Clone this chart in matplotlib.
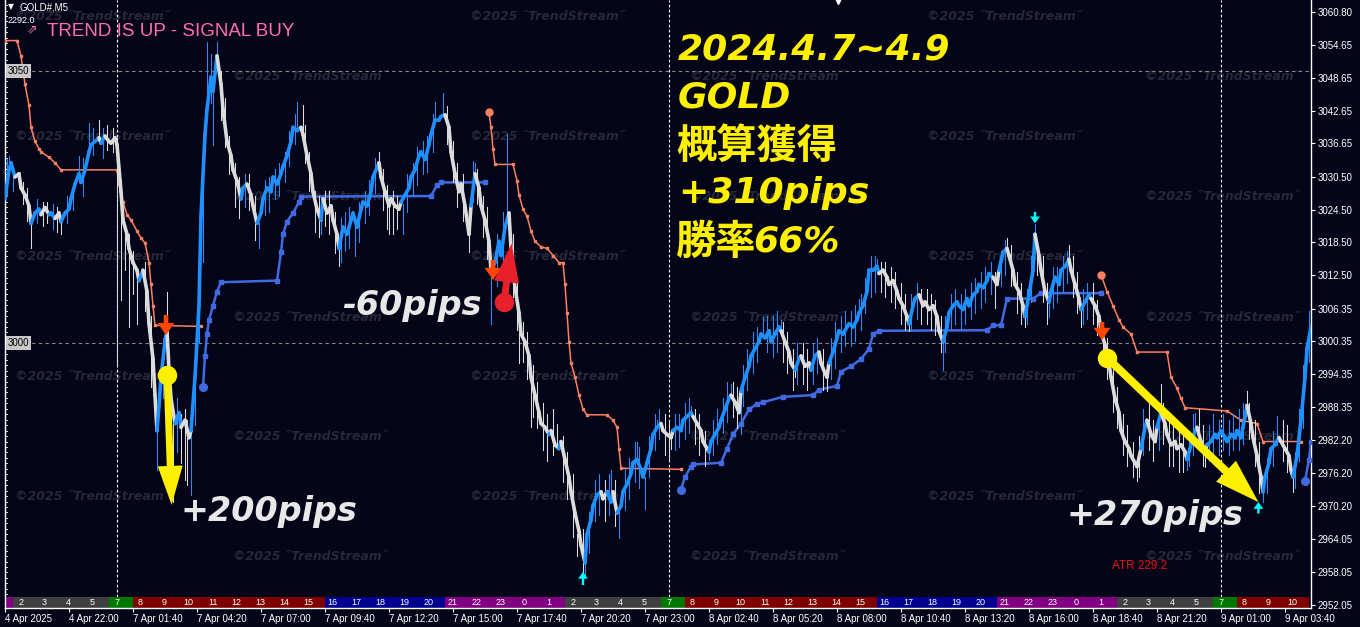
import matplotlib
matplotlib.use("Agg")
import matplotlib.pyplot as plt
from matplotlib.collections import LineCollection
from matplotlib.patches import Rectangle
from matplotlib.transforms import blended_transform_factory

# ------------------------------------------------------------------ data
# price path: (bar index, price) – M5 bars
price_path = [
    (0,3026.5),(2,3031.8),(3,3033.1),(5,3030.5),(7,3031.1),(8,3028.5),(10,3027.2),(12,3025.2),(13,3022.0),
    (15,3023.9),(17,3024.6),(18,3023.6),(20,3024.9),(22,3023.6),(23,3023.9),(25,3022.9),(27,3023.9),(28,3022.3),
    (30,3023.9),(32,3024.6),(33,3026.5),(35,3029.2),(37,3031.1),(38,3029.5),(40,3031.8),(42,3035.1),(43,3036.4),
    (45,3037.0),(47,3037.7),(48,3036.7),(50,3038.0),(52,3037.0),(53,3036.7),(55,3037.7),(56,3036.4),(58,3027.8),
    (59,3022.6),(61,3020.0),(62,3017.4),(64,3014.8),(66,3013.4),(67,3011.5),(69,3013.4),(71,3009.5),(72,3003.6),
    (74,2997.1),(75,2990.5),(76,2984.0),(77,2988.6),(78,2993.8),(80,3000.3),(81,3002.3),(82,2995.1),(83,2989.9),
    (85,2985.3),(87,2987.3),(88,2984.6),(90,2985.9),(92,2982.7),(93,2984.0),(95,2993.8),(97,3006.9),(98,3023.3),
    (100,3038.3),(101,3042.9),(103,3048.8),(104,3046.2),(106,3052.7),(108,3047.5),(109,3042.9),(111,3037.0),
    (113,3034.4),(114,3031.8),(116,3029.8),(118,3026.5),(119,3028.5),(121,3029.2),(123,3027.2),(124,3025.2),
    (126,3022.0),(128,3023.9),(129,3026.5),(131,3028.5),(133,3027.8),(134,3030.5),(136,3029.2),(138,3031.1),
    (139,3032.4),(141,3034.4),(143,3037.0),(144,3039.6),(146,3039.0),(148,3039.6),(149,3038.3),(151,3034.4),
    (153,3031.1),(154,3027.8),(156,3024.6),(158,3022.6),(159,3026.5),(161,3023.9),(163,3025.2),(164,3022.6),
    (166,3020.0),(167,3017.4),(169,3021.3),(171,3020.0),(173,3022.6),(174,3023.9),(176,3021.3),(178,3024.6),
    (179,3025.9),(181,3025.2),(183,3027.8),(184,3030.5),(187,3033.1),(188,3030.5),(190,3027.8),(192,3025.2),
    (193,3026.5),(195,3025.2),(197,3024.6),(198,3025.9),(200,3027.2),(202,3028.5),(203,3030.5),(205,3031.8),
    (207,3034.4),(208,3035.1),(210,3033.7),(212,3036.4),(213,3038.3),(215,3040.9),(217,3040.9),
    (218,3041.6),(220,3041.9),(222,3039.6),(223,3035.1),(225,3031.1),(227,3027.8),(228,3029.2),(230,3025.2),
    (232,3020.0),(233,3025.2),(235,3031.1),(237,3028.5),(238,3025.2),(240,3022.6),(242,3018.7),(243,3013.4),
    (245,3014.8),(247,3018.7),(248,3016.1),(250,3021.3),(252,3023.9),(253,3017.4),(255,3010.2),(257,3005.6),
    (258,3001.7),(260,3000.3),(262,2997.7),(263,2993.8),(265,2990.5),(267,2987.3),(268,2985.3),(270,2984.6),
    (272,2983.3),(273,2984.0),(275,2981.4),(277,2980.7),(278,2982.0),(280,2978.7),(282,2975.5),(283,2972.8),
    (285,2968.9),(287,2965.6),(288,2963.0),(290,2959.8),(291,2965.0),(293,2967.6),(294,2970.2),(296,2972.2),
    (298,2972.8),(299,2971.5),(301,2972.8),(303,2970.9),(304,2972.8),(306,2968.9),(308,2970.2),(309,2972.8),
    (311,2974.2),(313,2976.1),(314,2978.1),(316,2978.7),(318,2976.8),(319,2975.5),(321,2978.1),(323,2980.7),
    (324,2983.3),(326,2984.6),(328,2985.3),(329,2984.0),(331,2983.3),(333,2982.7),(334,2984.0),(336,2984.6),
    (338,2984.0),(339,2985.9),(341,2986.6),(343,2987.3),(344,2986.6),(346,2985.3),(348,2984.0),(349,2982.0),
    (351,2980.7),(352,2980.1),(353,2982.0),(355,2983.3),(357,2984.6),(358,2985.9),(360,2987.9),(362,2989.9),
    (363,2990.5),(365,2989.2),(367,2987.3),(368,2991.2),(370,2993.8),(372,2995.8),(373,2997.7),(375,2999.0),
    (377,3000.3),(378,3001.7),(380,3001.0),(382,3002.3),(383,3000.3),(385,3001.7),(387,3003.0),(388,3002.3),
    (390,3000.3),(392,2998.4),(393,2996.4),(395,2995.1),(397,2997.1),(398,2997.7),(400,2995.8),(402,2996.4),
    (403,2995.1),(405,2997.7),(407,2998.4),(408,2996.4),(410,2994.5),(411,2993.8),(412,2996.4),(414,2998.4),
    (416,3001.0),(417,3002.3),(419,3001.7),(421,3003.0),(422,3003.6),(424,3003.0),(426,3004.3),(427,3005.6),
    (429,3006.9),(431,3009.5),(432,3013.4),
    (434,3013.4),(436,3014.1),(437,3012.8),(439,3013.4),(441,3012.1),(442,3010.8),(444,3011.5),(446,3009.5),
    (447,3008.2),(449,3006.9),(451,3004.9),(452,3003.6),(454,3006.9),(455,3008.2),(457,3008.9),(459,3006.9),
    (460,3007.6),(462,3006.2),(464,3006.9),(466,3004.9),(467,3002.3),(469,3000.3),(471,3003.0),(472,3005.6),
    (474,3006.9),(476,3007.6),(477,3006.9),(479,3006.2),(481,3008.2),(482,3006.9),(484,3008.9),(486,3009.5),
    (487,3010.8),(489,3010.2),(491,3011.5),(492,3012.8),(494,3012.1),(496,3010.8),(497,3013.4),(499,3016.7),
    (501,3017.4),(502,3016.1),(504,3013.4),(505,3010.8),(507,3009.5),(509,3006.9),(510,3004.9),(512,3008.9),
    (514,3013.4),(515,3020.0),(517,3016.1),(518,3013.4),(520,3009.5),(522,3007.6),(523,3009.5),(525,3012.1),
    (527,3010.8),(528,3013.4),(530,3014.1),(532,3015.4),(533,3013.4),(535,3010.8),(537,3008.2),(538,3006.2),
    (540,3007.6),(542,3008.9),(543,3008.2),(545,3006.9),(547,3004.9),(548,3002.3),(550,2999.7),(552,2996.4),
    (553,2993.8),(555,2989.9),(557,2987.3),(558,2984.0),(560,2982.0),(562,2980.7),(563,2979.4),(565,2978.1),
    (566,2977.4),(568,2980.7),(570,2984.6),(571,2985.9),(573,2983.3),(575,2982.0),(576,2984.6),(578,2987.3),
    (580,2985.3),(581,2983.3),(583,2981.4),(585,2982.0),(586,2980.7),(588,2981.4),(590,2980.1),(591,2978.7),
    (593,2981.4),(595,2984.0),(596,2984.6),(598,2982.0),(600,2980.1),(601,2981.4),(603,2982.0),(605,2983.3),
    (606,2982.7),(608,2984.0),(610,2982.7),(611,2982.0),(613,2983.3),(615,2982.7),(616,2984.0),(618,2982.7),
    (620,2986.6),(621,2988.6),(623,2985.3),(624,2982.7),(626,2979.4),(628,2975.5),(629,2972.8),(630,2975.5),
    (632,2978.1),(633,2980.7),(635,2981.4),(637,2982.7),(638,2982.0),(640,2980.7),(642,2979.4),(643,2976.8),
    (644,2975.5),(646,2979.4),(648,2985.9),(650,2993.8),(651,2999.0),(653,3003.0),
]

# bar ranges in which the trend colour is "up" (blue); elsewhere "down" (white)
blue_spans = [(0,6),(14,19),(22,25),(29,47),(49,51),(68,69),(76,81),(86,88),(93,107),(118,122),
              (127,148),(158,160),(168,187),(198,221),(233,236),(243,252),(272,273),(277,278),
              (290,298),(302,304),(307,328),(334,344),(352,364),(368,389),(396,399),(404,407),
              (412,437),(453,458),(469,494),(497,501),(511,516),(522,532),(539,543),(568,572),
              (576,578),(591,596),(601,621),(629,637),(645,653)]

# wicks: (bar, high, low)
wicks = [
    (1,3033.8,3027.0),(2,3034.4,3031.0),(4,3032.5,3028.0),(9,3029.5,3025.5),(11,3028.5,3022.5),
    (13,3022.0,3017.4),(16,3026.5,3022.0),(19,3026.0,3021.5),(21,3026.0,3022.0),(24,3025.5,3021.0),
    (26,3025.0,3020.5),(28,3022.3,3020.0),(31,3027.0,3022.0),(34,3029.0,3024.5),(37,3034.4,3031.1),
    (39,3034.0,3027.0),(42,3040.3,3035.1),(44,3039.5,3034.5),(47,3040.9,3037.7),(49,3039.5,3034.0),
    (51,3040.0,3035.5),(54,3039.5,3035.0),(56,3037.7,2995.8),(58,3030.0,3008.0),(60,3021.0,3013.4),
    (62,3020.0,3003.0),(64,3017.0,3009.0),(66,3013.4,3003.6),(70,3015.0,3006.0),(73,3005.0,2992.0),
    (76,2984.0,2976.8),(79,3001.0,2990.0),(81,3009.5,3002.3),(84,2986.0,2970.9),(86,2990.0,2980.0),
    (88,2987.0,2978.0),(90,2988.0,2975.0),(91,2986.0,2974.0),(93,2984.0,2972.2),(95,2996.0,2985.0),
    (97,3010.0,3000.0),(99,3032.0,3015.0),(101,3055.3,3042.9),(103,3053.0,3044.0),(104,3046.2,3036.4),
    (106,3055.3,3052.7),(108,3050.0,3041.0),(110,3045.0,3036.0),(112,3038.0,3031.0),(115,3033.0,3025.0),
    (117,3030.5,3023.0),(120,3031.0,3025.0),(122,3031.0,3024.5),(125,3027.0,3019.0),(127,3022.0,3017.4),
    (130,3030.0,3023.5),(132,3030.5,3024.0),(135,3032.0,3026.5),(137,3033.0,3027.0),(140,3035.0,3029.5),
    (142,3039.0,3032.5),(145,3042.0,3036.5),(146,3044.2,3039.0),(149,3043.6,3038.3),(150,3040.0,3033.0),
    (152,3035.0,3028.0),(155,3028.0,3020.5),(157,3027.0,3019.5),(158,3022.6,3020.0),(160,3028.0,3021.5),
    (162,3028.0,3020.0),(165,3024.0,3016.5),(167,3017.4,3014.1),(168,3023.0,3015.0),(170,3024.0,3017.0),
    (172,3025.0,3017.5),(175,3022.0,3016.1),(177,3026.0,3018.5),(180,3028.0,3022.0),(182,3030.0,3023.5),
    (185,3034.0,3027.5),(187,3035.1,3033.1),(189,3032.0,3024.5),(191,3029.0,3021.0),(192,3025.2,3020.0),
    (194,3028.0,3020.0),(196,3027.0,3021.0),(199,3025.5,3020.0),(201,3031.0,3024.0),(204,3033.0,3027.0),
    (206,3036.0,3029.0),(209,3037.0,3031.0),(211,3038.0,3031.5),(214,3042.0,3035.0),(215,3044.2,3040.9),
    (219,3045.8,3041.7),(221,3043.5,3036.5),(224,3037.0,3029.5),(226,3033.0,3025.0),(229,3031.0,3022.5),
    (232,3020.0,3016.7),(234,3033.5,3026.0),(235,3033.1,3031.1),(236,3032.0,3025.5),(239,3027.0,3019.5),
    (241,3025.0,3015.5),(243,3013.4,3003.6),(246,3020.0,3010.5),(249,3024.0,3012.5),(251,3038.3,3022.6),
    (254,3020.0,3008.5),(256,3012.0,3002.5),(257,3005.6,2996.4),(259,3004.0,2996.5),(261,3002.0,2993.5),
    (263,2993.8,2984.6),(264,2996.0,2986.5),(266,2993.0,2984.5),(269,2989.0,2980.5),(271,2987.0,2978.5),
    (274,2988.0,2979.5),(276,2985.3,2981.0),(279,2983.0,2974.5),(281,2980.0,2971.5),(284,2976.0,2964.5),
    (286,2965.0,2961.1),(289,2966.0,2958.0),(290,2959.8,2957.1),(292,2969.0,2961.5),(295,2975.0,2967.5),
    (297,2976.0,2968.5),(300,2975.0,2967.5),(302,2976.0,2968.5),(303,2976.8,2970.9),(305,2975.0,2966.5),
    (307,2969.5,2964.3),(310,2977.0,2969.5),(312,2979.0,2971.5),(315,2982.0,2974.5),(316,2982.0,2978.7),
    (317,2981.0,2973.5),(320,2975.5,2969.6),(322,2983.0,2975.5),(325,2987.0,2980.5),(326,2985.9,2984.6),
    (327,2988.0,2982.5),(330,2987.0,2979.5),(332,2986.0,2978.5),(333,2982.7,2980.7),(335,2987.0,2980.5),
    (337,2987.0,2981.0),(340,2989.0,2982.5),(342,2990.0,2983.5),(343,2988.6,2987.3),(345,2988.0,2981.5),
    (347,2987.0,2979.5),(350,2984.0,2977.5),(352,2980.1,2978.7),(354,2986.0,2979.5),(356,2988.0,2981.5),
    (359,2990.0,2983.5),(361,2993.0,2985.5),(363,2992.5,2990.5),(364,2993.0,2986.5),(366,2992.0,2984.5),
    (368,2991.2,2983.3),(369,2996.0,2988.5),(371,2999.0,2991.5),(374,3002.0,2994.5),(376,3003.0,2996.5),
    (379,3004.9,3001.3),(381,3005.0,2998.5),(384,3005.0,2997.5),(386,3006.0,2998.5),(388,3004.3,3002.3),
    (389,3004.0,2996.5),(391,3002.0,2994.5),(394,2999.0,2991.5),(395,2995.1,2993.8),(396,3000.0,2992.5),
    (399,3000.0,2992.5),(401,2999.0,2991.5),(404,3000.0,2992.5),(406,3001.0,2994.5),(409,2999.0,2991.5),
    (411,2993.8,2991.2),(413,3001.0,2993.5),(415,3004.0,2995.5),(418,3005.0,2998.5),(420,3006.0,2999.5),
    (423,3006.0,2999.5),(425,3007.0,3000.5),(427,3008.2,3005.6),(428,3009.0,3002.5),(430,3012.0,3005.5),
    (433,3016.0,3008.5),(435,3016.0,3009.5),(436,3015.4,3014.1),(438,3015.0,3009.5),(440,3015.0,3008.5),
    (443,3014.0,3007.5),(445,3013.0,3006.5),(448,3011.0,3003.5),(450,3009.0,3002.5),(452,3003.6,3002.3),
    (453,3009.0,3002.5),(456,3011.0,3004.5),(458,3010.0,3003.5),(461,3010.0,3003.5),(463,3009.0,3002.5),
    (465,3008.0,3001.5),(468,3005.0,2998.5),(469,3000.3,2995.1),(470,3005.0,2998.5),(473,3009.0,3002.5),
    (475,3010.0,3003.5),(478,3009.0,3002.5),(480,3010.0,3003.5),(483,3011.0,3004.5),(485,3012.0,3005.5),
    (488,3013.0,3006.5),(490,3014.0,3007.5),(493,3015.0,3009.0),(495,3013.0,3006.5),(498,3017.0,3010.5),
    (500,3019.0,3012.5),(501,3019.3,3017.4),(503,3018.0,3010.5),(506,3013.0,3005.5),(508,3011.0,3003.5),
    (510,3004.9,3003.0),(511,3010.0,3003.5),(513,3016.0,3007.5),(515,3021.9,3020.0),(516,3019.0,3012.5),
    (519,3016.0,3007.5),(521,3011.0,3003.5),(522,3007.6,3004.9),(524,3014.0,3006.5),(526,3014.0,3007.5),
    (529,3016.0,3009.5),(531,3017.0,3011.0),(532,3018.0,3015.4),(534,3016.0,3008.5),(536,3013.0,3005.5),
    (538,3006.2,3003.0),(539,3010.0,3003.5),(541,3011.0,3004.5),(544,3011.0,3003.5),(546,3008.0,3001.5),
    (549,3004.0,2997.5),(551,3001.0,2993.5),(554,2996.0,2987.5),(556,2992.0,2984.5),(559,2987.0,2979.5),
    (561,2985.0,2977.5),(564,2982.0,2975.5),(566,2977.4,2974.8),(567,2983.0,2975.5),(569,2988.0,2979.5),
    (572,2989.0,2980.5),(574,2986.0,2978.5),(577,2989.0,2980.5),(578,2992.5,2987.3),(579,2989.0,2981.5),
    (582,2986.0,2977.5),(584,2985.0,2977.5),(587,2984.0,2976.5),(589,2984.0,2976.5),(591,2978.7,2976.8),
    (592,2984.0,2977.5),(594,2987.0,2979.5),(595,2987.3,2984.0),(597,2988.0,2980.5),(599,2985.0,2977.5),
    (600,2980.1,2977.4),(602,2985.0,2978.5),(604,2987.0,2979.5),(607,2986.0,2979.5),(609,2987.0,2980.5),
    (612,2986.0,2979.5),(614,2987.0,2980.5),(617,2988.0,2980.5),(619,2989.0,2981.5),(621,2991.2,2988.6),
    (622,2989.0,2982.5),(625,2986.0,2977.5),(627,2982.0,2972.5),(629,2972.8,2970.9),(631,2979.0,2972.5),
    (634,2984.0,2977.5),(636,2986.6,2981.4),(639,2986.0,2978.5),(641,2985.0,2976.5),(644,2975.5,2972.8),
    (645,2980.0,2973.5),(647,2988.0,2978.5),(649,2996.0,2984.5),(652,3006.0,2996.5),
]

# trailing stop lines (bar, price)
sell_stop_1 = [(0,3055.5),(6,3055.5),(8,3052.7),(10,3047.5),(12,3043.6),(13,3039.6),(15,3037.0),(17,3035.7),
               (18,3035.1),(22,3034.1),(25,3033.1),(28,3031.8),(56,3031.8),(57,3029.2),(59,3025.9),(61,3023.6),
               (63,3022.6),(66,3020.6),(68,3019.3),(70,3018.4),(72,3014.8),(73,3010.8),(74,3006.9),(75,3003.3),
               (98,3003.1)]
sell_stop_2 = [(242,3042.4),(243,3039.6),(244,3035.7),(245,3032.8),(254,3032.8),(256,3029.8),(257,3027.2),
               (259,3024.6),(261,3023.3),(263,3020.6),(265,3018.7),(268,3017.7),(271,3017.4),(274,3016.1),
               (277,3014.8),(279,3014.8),(280,3010.8),(281,3005.6),(282,3000.3),(283,2996.4),(285,2993.8),
               (287,2990.5),(289,2987.9),(291,2986.9),(301,2986.9),(304,2985.9),(306,2984.6),(307,2980.7),
               (308,2977.1),(338,2976.9)]
sell_stop_3 = [(548,3012.6),(551,3009.5),(554,3006.9),(557,3004.3),(559,3003.0),(563,3001.7),(566,2998.4),
               (581,2998.4),(583,2993.8),(586,2991.8),(588,2989.9),(590,2988.2),(611,2987.6),(618,2985.9),
               (626,2985.3),(629,2982.0),(648,2982.0)]
buy_stop_1 = [(99,2992.0),(100,2997.7),(101,3001.7),(102,3004.3),(104,3006.9),(106,3009.5),(108,3011.2),
              (136,3011.5),(138,3016.7),(139,3020.0),(141,3022.3),(144,3023.9),(147,3025.9),(148,3026.9),
              (213,3027.0),(216,3029.0),(218,3029.5),(240,3029.5)]
buy_stop_2 = [(338,2973.2),(340,2975.5),(343,2977.4),(344,2977.8),(358,2978.1),(361,2980.7),(364,2983.3),
              (368,2985.3),(372,2987.9),(376,2988.9),(379,2989.2),(389,2990.2),(404,2990.5),(407,2991.5),
              (416,2992.2),(418,2994.8),(423,2995.8),(428,2997.1),(432,2999.0),(434,3001.7),(437,3002.3),
              (491,3002.4),(494,3003.3),(498,3003.3),(501,3008.2),(514,3008.2),(518,3009.2),(548,3009.2)]
buy_stop_3 = [(650,2974.8),(652,2978.7),(653,2982.0)]

# sell signals (bar, arrow tail price, arrow tip price)
sell_signals = [(80.5,3005.2,3001.5),(244,3015.3,3011.6),(548.5,3003.9,3000.6)]
# cyan swing arrows (bar, tail price, tip price)
swing_signals = [(289,2955.7,2958.1),(515,3024.1,3022.0),(626.7,2968.8,2970.9)]
# trades: entry (bar, price) and exit (bar, price)
trade_entries = [(81,2994.2),(249.5,3007.6),(551.2,2997.3)]
trade_exits = [(83.3,2970.4),(253.3,3018.3),(626.7,2970.9)]
trade_labels = ["+200pips", "-60pips", "+270pips"]

price_ticks = [3060.80,3054.65,3048.65,3042.65,3036.65,3030.50,3024.50,3018.50,3012.50,3006.35,
               3000.35,2994.35,2988.35,2982.20,2976.20,2970.20,2964.05,2958.05,2952.05]
time_tick_bars = [0,32,64,96,128,160,192,224,256,288,320,352,384,416,448,480,512,544,576,608,640]
time_tick_labels = ["4 Apr 2025","4 Apr 22:00","7 Apr 01:40","7 Apr 04:20","7 Apr 07:00","7 Apr 09:40",
                    "7 Apr 12:20","7 Apr 15:00","7 Apr 17:40","7 Apr 20:20","7 Apr 23:00","8 Apr 02:40",
                    "8 Apr 05:20","8 Apr 08:00","8 Apr 10:40","8 Apr 13:20","8 Apr 16:00","8 Apr 18:40",
                    "8 Apr 21:20","9 Apr 01:00","9 Apr 03:40"]
hour_labels = [2,3,4,5,7,8,9,10,11,12,13,14,15,16,17,18,19,20,21,22,23,0,1,
               2,3,4,5,7,8,9,10,11,12,13,14,15,16,17,18,19,20,21,22,23,0,1,
               2,3,4,5,7,8,9,10]
level_lines = [3050, 3000]
separator_bars = [56, 332, 608]

# ------------------------------------------------------------------ style
BG = "#050519"
BLUE = "#1E90FF"
WHITE = "#DCDCDC"
ORANGE = "#FA8060"
SUPP = "#4169E1"
YELLOW = "#FFF000"

W, H = 1360, 627
fig = plt.figure(figsize=(W/100, H/100), dpi=100, facecolor=BG)
AX_L, AX_R, AX_T, AX_B = 5, 1311, 0, 608
ax = fig.add_axes([AX_L/W, (H-AX_B)/H, (AX_R-AX_L)/W, (AX_B-AX_T)/H], facecolor=BG)
ax.set_xlim(0, 653)
ax.set_ylim(2951.48, 3062.94)

def px(x):  # pixel x -> axes fraction
    return (x - AX_L) / (AX_R - AX_L)

def py(y):  # pixel y -> axes fraction
    return 1 - (y - AX_T) / (AX_B - AX_T)

def is_blue(b):
    return any(a <= b < e for a, e in blue_spans)

# watermarks
WM = "©2025 ˝TrendStream˝"
for cx in [15, 470, 927]:
    for ry in [17, 137, 257, 377, 497]:
        ax.text(px(cx), py(ry), WM, transform=ax.transAxes, color="#272739",
                fontsize=9, fontweight="bold", style="italic", va="center", ha="left", zorder=0.5)
for cx in [233, 690, 1145]:
    for ry in [77, 197, 317, 437, 557]:
        ax.text(px(cx), py(ry), WM, transform=ax.transAxes, color="#272739",
                fontsize=9, fontweight="bold", style="italic", va="center", ha="left", zorder=0.5)

# level lines + separators
for lv in level_lines:
    ax.axhline(lv, color="#8a8a8a", lw=0.8, ls=(0, (3, 3)), zorder=1)
    ax.text(px(8), lv, str(lv), transform=blended_transform_factory(ax.transAxes, ax.transData),
            fontsize=7, family="Liberation Sans", color="black", va="center", ha="left", zorder=6,
            bbox=dict(boxstyle="square,pad=0.2", fc="#c8c8c8", ec="none"))
for sb in separator_bars:
    ax.axvline(sb, ymin=py(597), ymax=1, color="white", lw=0.8, ls=(0, (2.5, 2)), zorder=1)

# left-edge scale ticks
for v in range(2953, 3063):
    ax.plot([0, 1.2], [v, v], color="white", lw=0.6, zorder=2, clip_on=False)

# hour strip
trans = blended_transform_factory(ax.transData, ax.transAxes)
strip_h = 11 / 608

def hour_color(h):
    if 2 <= h <= 5:
        return "#404040"
    if h == 7:
        return "#007800"
    if 8 <= h <= 15:
        return "#800000"
    if 16 <= h <= 20:
        return "#000090"
    return "#800080"

ax.add_patch(Rectangle((0, 0), 4, strip_h, transform=trans, color="#800080", zorder=2, lw=0))
for k, h in enumerate(hour_labels):
    x0 = 4 + 12 * k
    ax.add_patch(Rectangle((x0, 0), 12, strip_h, transform=trans, color=hour_color(h), zorder=2, lw=0))
    ax.text(x0 + 3.8, strip_h / 2, str(h), transform=trans, color="white", fontsize=6.5,
            family="Liberation Sans", ha="center", va="center", zorder=3)

# trailing stops
for seg in [sell_stop_1, sell_stop_2, sell_stop_3]:
    xs, ys = zip(*seg)
    ax.plot(xs, ys, color=ORANGE, lw=1.1, marker="s", ms=2, zorder=3)
for seg in [sell_stop_2, sell_stop_3]:
    ax.plot(seg[0][0], seg[0][1], "o", color=ORANGE, ms=5, zorder=3)
for seg in [buy_stop_1, buy_stop_2, buy_stop_3]:
    xs, ys = zip(*seg)
    ax.plot(xs, ys, color=SUPP, lw=1.8, marker="s", ms=2.2, zorder=3)
    ax.plot(seg[0][0], seg[0][1], "o", color=SUPP, ms=5.5, zorder=3)

# wicks
for b, hi, lo in wicks:
    ax.plot([b, b], [lo, hi], color=BLUE if is_blue(b) else WHITE, lw=0.75, zorder=4)

# price line
segs, cols = [], []
for (b0, p0), (b1, p1) in zip(price_path[:-1], price_path[1:]):
    segs.append([(b0, p0), (b1, p1)])
    cols.append(BLUE if is_blue((b0 + b1) / 2) else WHITE)
ax.add_collection(LineCollection(segs, colors=cols, linewidths=2.6, capstyle="round",
                                 joinstyle="round", zorder=5))

# sell signal arrows
for b, tail, tip in sell_signals:
    ax.annotate("", xy=(b, tip), xytext=(b, tail),
                arrowprops=dict(arrowstyle="simple,head_length=0.8,head_width=1.1,tail_width=0.3",
                                color="#FF4500", lw=0, shrinkA=0, shrinkB=0, mutation_scale=11),
                zorder=7)
for b, tail, tip in swing_signals:
    ax.annotate("", xy=(b, tip), xytext=(b, tail),
                arrowprops=dict(arrowstyle="simple,head_length=0.7,head_width=1.0,tail_width=0.25",
                                color="#00FFFF", lw=0, shrinkA=0, shrinkB=0, mutation_scale=7),
                zorder=7)

# trades
trade_colors = [YELLOW, "#E8202A", YELLOW]
trade_scale = [20, 20, 23]
for (eb, ep), (xb, xp), c, ms in zip(trade_entries, trade_exits, trade_colors, trade_scale):
    ax.annotate("", xy=(xb, xp), xytext=(eb, ep),
                arrowprops=dict(arrowstyle="simple,head_length=1.4,head_width=0.9,tail_width=0.25",
                                color=c, lw=0, shrinkA=0, shrinkB=0, mutation_scale=ms),
                zorder=8)
    ax.plot(eb, ep, "o", color=c, ms=13, zorder=8)

label_pos = [(180, 511), (342, 305), (1066, 515)]
for (lx, ly), lab in zip(label_pos, trade_labels):
    ax.text(px(lx), py(ly), lab, transform=ax.transAxes, color="#E8E8E8", fontsize=24,
            fontweight="bold", style="italic", family="DejaVu Sans", ha="left", va="center", zorder=9)

# summary text
LATIN = dict(color=YELLOW, fontsize=26, fontweight="bold", style="italic", family="DejaVu Sans",
             ha="left", va="center", zorder=9, transform=ax.transAxes)
CJK = dict(color=YELLOW, fontsize=29, fontweight="bold", family="Noto Sans CJK JP",
           ha="left", va="center", zorder=9, transform=ax.transAxes)
ax.text(px(678), py(50), "2024.4.7~4.9", **LATIN)
ax.text(px(678), py(98), "GOLD", **LATIN)
ax.text(px(676), py(146), "概算獲得", **CJK)
ax.text(px(678), py(193), "+310pips", **LATIN)
ax.text(px(676), py(242), "勝率", **CJK)
ax.text(px(753), py(242), "66%", **LATIN)

# header texts
ax.text(px(8), py(7), "▼", transform=ax.transAxes, color="white", fontsize=5.5, va="center", ha="left")
ax.text(px(20), py(7), "GOLD#,M5", transform=ax.transAxes, color="white", fontsize=7,
        family="Liberation Sans", va="center", ha="left")
ax.text(px(8), py(20.5), "2292.0", transform=ax.transAxes, color="white", fontsize=6.5,
        family="Liberation Sans", va="center", ha="left")
ax.text(px(27), py(30), "⇗", transform=ax.transAxes, color="#FF6EB4", fontsize=9, va="center", ha="left")
ax.text(px(47), py(31), "TREND IS UP - SIGNAL BUY", transform=ax.transAxes, color="#FF6EB4",
        fontsize=13.5, family="Liberation Sans", va="center", ha="left")
ax.text(px(1112), py(566), "ATR 229.2", transform=ax.transAxes, color="#E81010", fontsize=8.5,
        family="Liberation Sans", va="center", ha="left")
ax.plot([px(838)], [1.0], marker="v", color="white", ms=6, transform=ax.transAxes, clip_on=False, zorder=10)

# axes
ax.spines["top"].set_visible(False)
for s in ["left", "right", "bottom"]:
    ax.spines[s].set_color("white")
    ax.spines[s].set_linewidth(1)
ax.yaxis.tick_right()
ax.set_yticks(price_ticks)
ax.set_yticklabels([f"{v:.2f}" for v in price_ticks])
ax.set_xticks(time_tick_bars)
ax.set_xticklabels(time_tick_labels)
ax.tick_params(axis="both", colors="white", labelsize=7, length=3, width=0.8, direction="out", pad=1.5)
for lab in ax.get_xticklabels():
    lab.set_horizontalalignment("left")
    lab.set_family("Liberation Sans")
for lab in ax.get_yticklabels():
    lab.set_family("Liberation Sans")

fig.savefig("out.png", dpi=100, facecolor=BG)
